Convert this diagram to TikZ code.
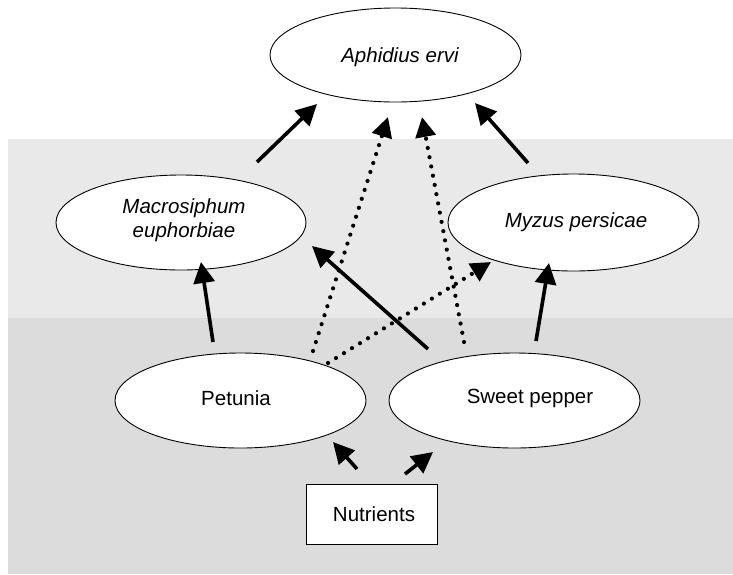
\documentclass[tikz,border=0pt]{standalone}
\usepackage{fontspec}
\setmainfont{Liberation Sans}
\usetikzlibrary{arrows.meta,shapes.geometric}
\definecolor{bandA}{RGB}{233,233,233}
\definecolor{bandB}{RGB}{220,220,220}
\tikzset{
  ell/.style={ellipse, draw=black, line width=0.9pt, fill=white, inner sep=0pt, minimum width=251pt, minimum height=95pt},
  boxnode/.style={rectangle, draw=black, line width=1pt, fill=white, inner sep=0pt, minimum width=131pt, minimum height=60pt},
  lbl/.style={font=\fontsize{20.5}{25}\selectfont, align=center, inner sep=0pt},
  solidarrow/.style={line width=3.6pt, -{Triangle[length=21pt,width=21pt]}},
  dotarrow/.style={line width=4.2pt, line cap=round, dash pattern=on 0pt off 9.4pt, -{Triangle[length=20pt,width=20pt]}},
}
\begin{document}
\begin{tikzpicture}[x=1pt,y=-1pt]
\useasboundingbox (0,0) rectangle (733,574);
\fill[white] (0,0) rectangle (733,574);
\fill[bandA] (8,139) rectangle (733,318);
\fill[bandB] (8,318) rectangle (733,574);

% nodes
\node[ell, minimum height=94pt] (ae) at (395.5,55) {};
\node[lbl] (aet) at (400,57) {\itshape Aphidius ervi};
\node[ell, minimum width=250pt] (ms) at (181,222.5) {};
\node[lbl] (mst) at (184,220) {\itshape Macrosiphum\\[-1pt]\itshape euphorbiae};
\node[ell, minimum height=97pt] (mp) at (573.5,222.5) {};
\node[lbl] (mpt) at (576,222) {\itshape Myzus persicae};
\node[ell] (pe) at (240.5,400.5) {};
\node[lbl] (pet) at (236,398) {Petunia};
\node[ell] (sp) at (514.5,400.5) {};
\node[lbl] (spt) at (530,398) {Sweet pepper};
\node[boxnode] (nu) at (371.5,514) {};
\node[lbl] (nut) at (374,514) {Nutrients};

% arrow end points
\coordinate (s1a) at (257,162); \coordinate (s1b) at (317,104);
\coordinate (s2a) at (528,163); \coordinate (s2b) at (475,103);
\coordinate (s3a) at (428,349); \coordinate (s3b) at (312,246);
\coordinate (s4a) at (213,342); \coordinate (s4b) at (201,262);
\coordinate (s5a) at (536,341); \coordinate (s5b) at (549,263);
\coordinate (s6a) at (357,469); \coordinate (s6b) at (333,442);
\coordinate (s7a) at (405,474); \coordinate (s7b) at (433,452);
\coordinate (d1a) at (313,351); \coordinate (d1b) at (388,117);
\coordinate (d2a) at (464,342); \coordinate (d2b) at (422,117);
\coordinate (d3a) at (328,363); \coordinate (d3b) at (491,262);

% dotted connectors
\draw[dotarrow] (d1a) -- (d1b);
\draw[dotarrow] (d2a) -- (d2b);
\draw[dotarrow] (d3a) -- (d3b);

% solid connectors
\draw[solidarrow] (s1a) -- (s1b);
\draw[solidarrow] (s2a) -- (s2b);
\draw[solidarrow] (s3a) -- (s3b);
\draw[solidarrow] (s4a) -- (s4b);
\draw[solidarrow] (s5a) -- (s5b);
\draw[solidarrow] (s6a) -- (s6b);
\draw[solidarrow] (s7a) -- (s7b);
\end{tikzpicture}
\end{document}
